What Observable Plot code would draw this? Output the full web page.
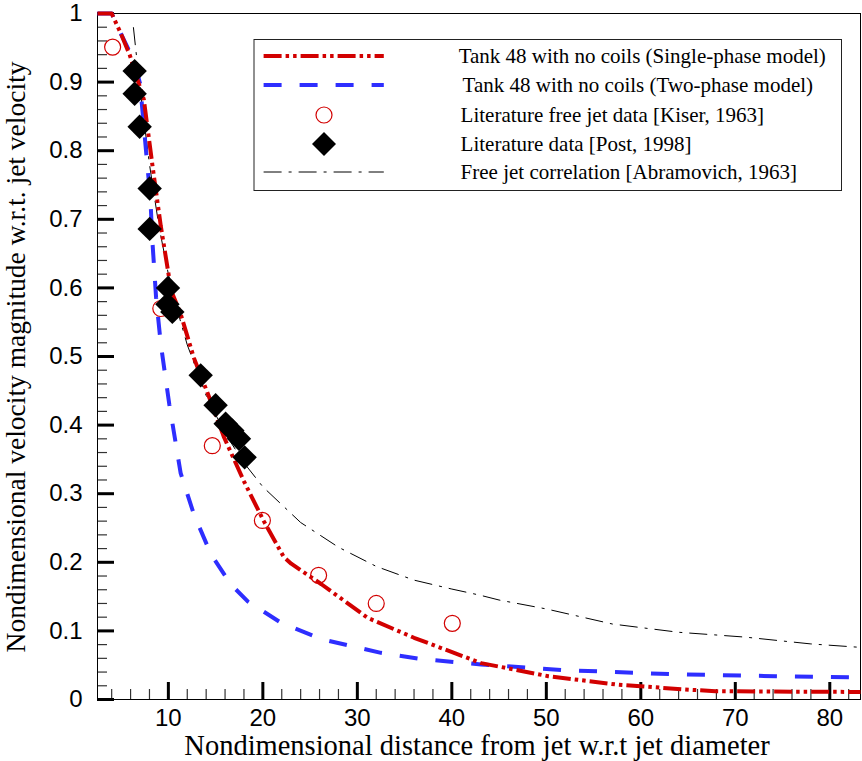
<!DOCTYPE html>
<html>
<head>
<meta charset="utf-8">
<script src="https://cdn.jsdelivr.net/npm/d3@7"></script>
<script src="https://cdn.jsdelivr.net/npm/@observablehq/plot@0.6"></script>
<style>
  body { margin: 0; background: #fff; }
  #chart { position: relative; width: 862px; height: 761px; }
</style>
</head>
<body>
<div id="chart"></div>
<script>
// ---------- data ----------
// Tank 48 with no coils (Single-phase model)
const singleX = [2.5, 4.0, 5.0, 5.9, 7.4, 8.3, 9.2, 10.3, 11.3, 12.7, 14.2, 15.9, 18.0, 20.1, 22.2, 23.0, 26.2, 31.1, 36.0, 43.1, 50.2, 57.3, 64.3, 67.9, 83.25];
const singleY = [1.0, 1.0, 0.97, 0.94, 0.875, 0.78, 0.69, 0.596, 0.562, 0.498, 0.445, 0.382, 0.318, 0.26, 0.208, 0.198, 0.168, 0.119, 0.09, 0.053, 0.034, 0.022, 0.015, 0.012, 0.011];

// Tank 48 with no coils (Two-phase model)
const twoX = [2.5, 4.0, 5.0, 6.4, 7.0, 7.7, 8.1, 8.3, 8.7, 9.2, 10.1, 11.3, 12.7, 14.5, 16.6, 18.4, 21.9, 26.2, 32.5, 36.8, 43.1, 51.6, 63.0, 74.3, 83.25];
const twoY = [1.0, 1.0, 0.97, 0.93, 0.898, 0.79, 0.73, 0.67, 0.586, 0.518, 0.43, 0.33, 0.27, 0.212, 0.168, 0.143, 0.112, 0.088, 0.068, 0.059, 0.051, 0.043, 0.037, 0.034, 0.032];

// Literature free jet data [Kiser, 1963]
const kiserX = [4.1, 9.2, 14.65, 19.95, 25.9, 32.0, 40.05];
const kiserY = [0.951, 0.570, 0.370, 0.261, 0.181, 0.140, 0.111];

// Literature data [Post, 1998]
const postX = [6.43, 6.43, 6.96, 8.02, 8.02, 9.96, 9.9, 10.42, 13.42, 15.0, 16.06, 16.77, 17.47, 18.07];
const postY = [0.916, 0.883, 0.835, 0.745, 0.686, 0.600, 0.576, 0.565, 0.4725, 0.429, 0.402, 0.392, 0.380, 0.353];

// Free jet correlation [Abramovich, 1963]
const corrX = [6.3, 7, 8, 9, 10, 11, 12, 14, 16, 18, 20, 24, 28, 32, 36, 40, 43, 45, 50, 57, 64, 71, 78, 83.25];
const corrY = [0.98, 0.89, 0.78, 0.69, 0.62, 0.565, 0.517, 0.443, 0.388, 0.345, 0.31, 0.258, 0.222, 0.194, 0.174, 0.161, 0.152, 0.145, 0.132, 0.110, 0.098, 0.091, 0.081, 0.076];

// ticks
const xMajor = [10, 20, 30, 40, 50, 60, 70, 80];
const xTickLabels = ["10", "20", "30", "40", "50", "60", "70", "80"];
const xMinor = [4, 6, 8, 12, 14, 16, 18, 22, 24, 26, 28, 32, 34, 36, 38, 42, 44, 46, 48, 52, 54, 56, 58, 62, 64, 66, 68, 72, 74, 76, 78, 82];
const yMajor = [0, 0.1, 0.2, 0.3, 0.4, 0.5, 0.6, 0.7, 0.8, 0.9, 1];
const yTickLabels = ["0", "0.1", "0.2", "0.3", "0.4", "0.5", "0.6", "0.7", "0.8", "0.9", "1"];
const yMinor = [0.02, 0.04, 0.06, 0.08, 0.12, 0.14, 0.16, 0.18, 0.22, 0.24, 0.26, 0.28, 0.32, 0.34, 0.36, 0.38,
  0.42, 0.44, 0.46, 0.48, 0.52, 0.54, 0.56, 0.58, 0.62, 0.64, 0.66, 0.68, 0.72, 0.74, 0.76, 0.78,
  0.82, 0.84, 0.86, 0.88, 0.92, 0.94, 0.96, 0.98];

const seriesNames = [
  "Tank 48 with no coils (Single-phase model)",
  "Tank 48 with no coils (Two-phase model)",
  "Literature free jet data [Kiser, 1963]",
  "Literature data [Post, 1998]",
  "Free jet correlation [Abramovich, 1963]"
];
const xTitle = "Nondimensional distance from jet w.r.t jet diameter";
const yTitle = "Nondimensional velocity magnitude w.r.t. jet velocity";

// ---------- styles ----------
const RED = "#d20000";
const BLUE = "#2e2eff";
const RED_DASH = "18,4,3.5,4,3.5,4";
const BLUE_DASH = "18,18";
const BLACK_DASH = "18,7,3,7";
const SERIF = "'Liberation Serif', 'Times New Roman', serif";
const SANS = "'Liberation Sans', Arial, sans-serif";

const toRows = (xs, ys) => xs.map((x, i) => ({x, y: ys[i]}));
const single = toRows(singleX, singleY);
const two = toRows(twoX, twoY);
const kiser = toRows(kiserX, kiserY);
const post = toRows(postX, postY);
const corr = toRows(corrX, corrY);

const chart = Plot.plot({
  width: 862,
  height: 761,
  marginLeft: 97,
  marginRight: 2,
  marginTop: 13,
  marginBottom: 62,
  style: {fontFamily: SANS, fontSize: "24px", background: "white", color: "black", overflow: "visible"},
  x: {domain: [2.5, 83.25], label: null},
  y: {domain: [0, 1], label: null},
  marks: [
    // inward minor & major ticks
    Plot.axisX({anchor: "bottom", ticks: xMinor, tickSize: -10, fill: "none", stroke: "#333", strokeWidth: 1.2, label: null}),
    Plot.axisX({anchor: "bottom", ticks: xMajor, tickSize: -17, fill: "none", stroke: "black", strokeWidth: 3, label: null}),
    Plot.axisY({anchor: "left", ticks: yMinor, tickSize: -10, fill: "none", stroke: "#333", strokeWidth: 1.2, label: null}),
    Plot.axisY({anchor: "left", ticks: yMajor, tickSize: -17, fill: "none", stroke: "black", strokeWidth: 3, label: null}),
    // tick labels
    Plot.axisX({anchor: "bottom", ticks: xMajor, tickSize: 0, tickPadding: 9, tickFormat: d => xTickLabels[xMajor.indexOf(d)], fontSize: 24, label: null}),
    Plot.axisY({anchor: "left", ticks: yMajor, tickSize: 0, tickPadding: 15, tickFormat: d => yTickLabels[yMajor.indexOf(d)], fontSize: 24, label: null}),
    Plot.frame({stroke: "black", strokeWidth: 1}),
    // series
    Plot.line(corr, {x: "x", y: "y", stroke: "black", strokeWidth: 1, strokeDasharray: BLACK_DASH, strokeLinecap: "butt"}),
    Plot.line(two, {x: "x", y: "y", stroke: BLUE, strokeWidth: 4, strokeDasharray: BLUE_DASH, strokeLinecap: "butt", strokeLinejoin: "round"}),
    Plot.line(single, {x: "x", y: "y", stroke: RED, strokeWidth: 4, strokeDasharray: RED_DASH, strokeLinecap: "butt", strokeLinejoin: "round"}),
    Plot.dot(kiser, {x: "x", y: "y", r: 8, stroke: RED, fill: "none", strokeWidth: 1.2}),
    Plot.dot(post, {x: "x", y: "y", symbol: "diamond2", r: 11, fill: "black", stroke: "none"})
  ]
});

document.getElementById("chart").appendChild(chart);

// ---------- titles ----------
const svg = d3.select(chart);
svg.append("text")
  .attr("x", 477).attr("y", 755)
  .attr("text-anchor", "middle")
  .style("font-family", SERIF).style("font-size", "28.5px").attr("fill", "black")
  .text(xTitle);
svg.append("text")
  .attr("transform", "translate(25,357) rotate(-90)")
  .attr("text-anchor", "middle")
  .style("font-family", SERIF).style("font-size", "27.5px").attr("fill", "black")
  .text(yTitle);

// ---------- legend ----------
const lg = svg.append("g").attr("text-anchor", "start");
lg.append("rect").attr("x", 254).attr("y", 39.5).attr("width", 587.5).attr("height", 151)
  .attr("fill", "white").attr("stroke", "#222").attr("stroke-width", 1);
const rowsY = [56, 85, 115, 144, 172];
const textX = [458.7, 462.6, 460.6, 460.6, 460.6];
const lineX1 = 263.6, lineX2 = 383.8, symX = 324;
lg.append("line").attr("x1", lineX1).attr("x2", lineX2).attr("y1", rowsY[0]).attr("y2", rowsY[0])
  .attr("stroke", RED).attr("stroke-width", 4).attr("stroke-dasharray", RED_DASH);
lg.append("line").attr("x1", lineX1).attr("x2", lineX2).attr("y1", rowsY[1]).attr("y2", rowsY[1])
  .attr("stroke", BLUE).attr("stroke-width", 4).attr("stroke-dasharray", BLUE_DASH);
lg.append("circle").attr("cx", symX).attr("cy", rowsY[2]).attr("r", 8)
  .attr("fill", "none").attr("stroke", RED).attr("stroke-width", 1.2);
lg.append("path").attr("transform", `translate(${symX},${rowsY[3]})`)
  .attr("d", "M0,-12L12,0L0,12L-12,0Z").attr("fill", "black");
lg.append("line").attr("x1", lineX1).attr("x2", lineX2).attr("y1", rowsY[4]).attr("y2", rowsY[4])
  .attr("stroke", "black").attr("stroke-width", 1).attr("stroke-dasharray", BLACK_DASH);
seriesNames.forEach((name, i) => {
  lg.append("text").attr("x", textX[i]).attr("y", rowsY[i] + 7.3)
    .attr("text-anchor", "start")
    .style("font-family", SERIF).style("font-size", "21px").attr("fill", "black")
    .text(name);
});
</script>
</body>
</html>
